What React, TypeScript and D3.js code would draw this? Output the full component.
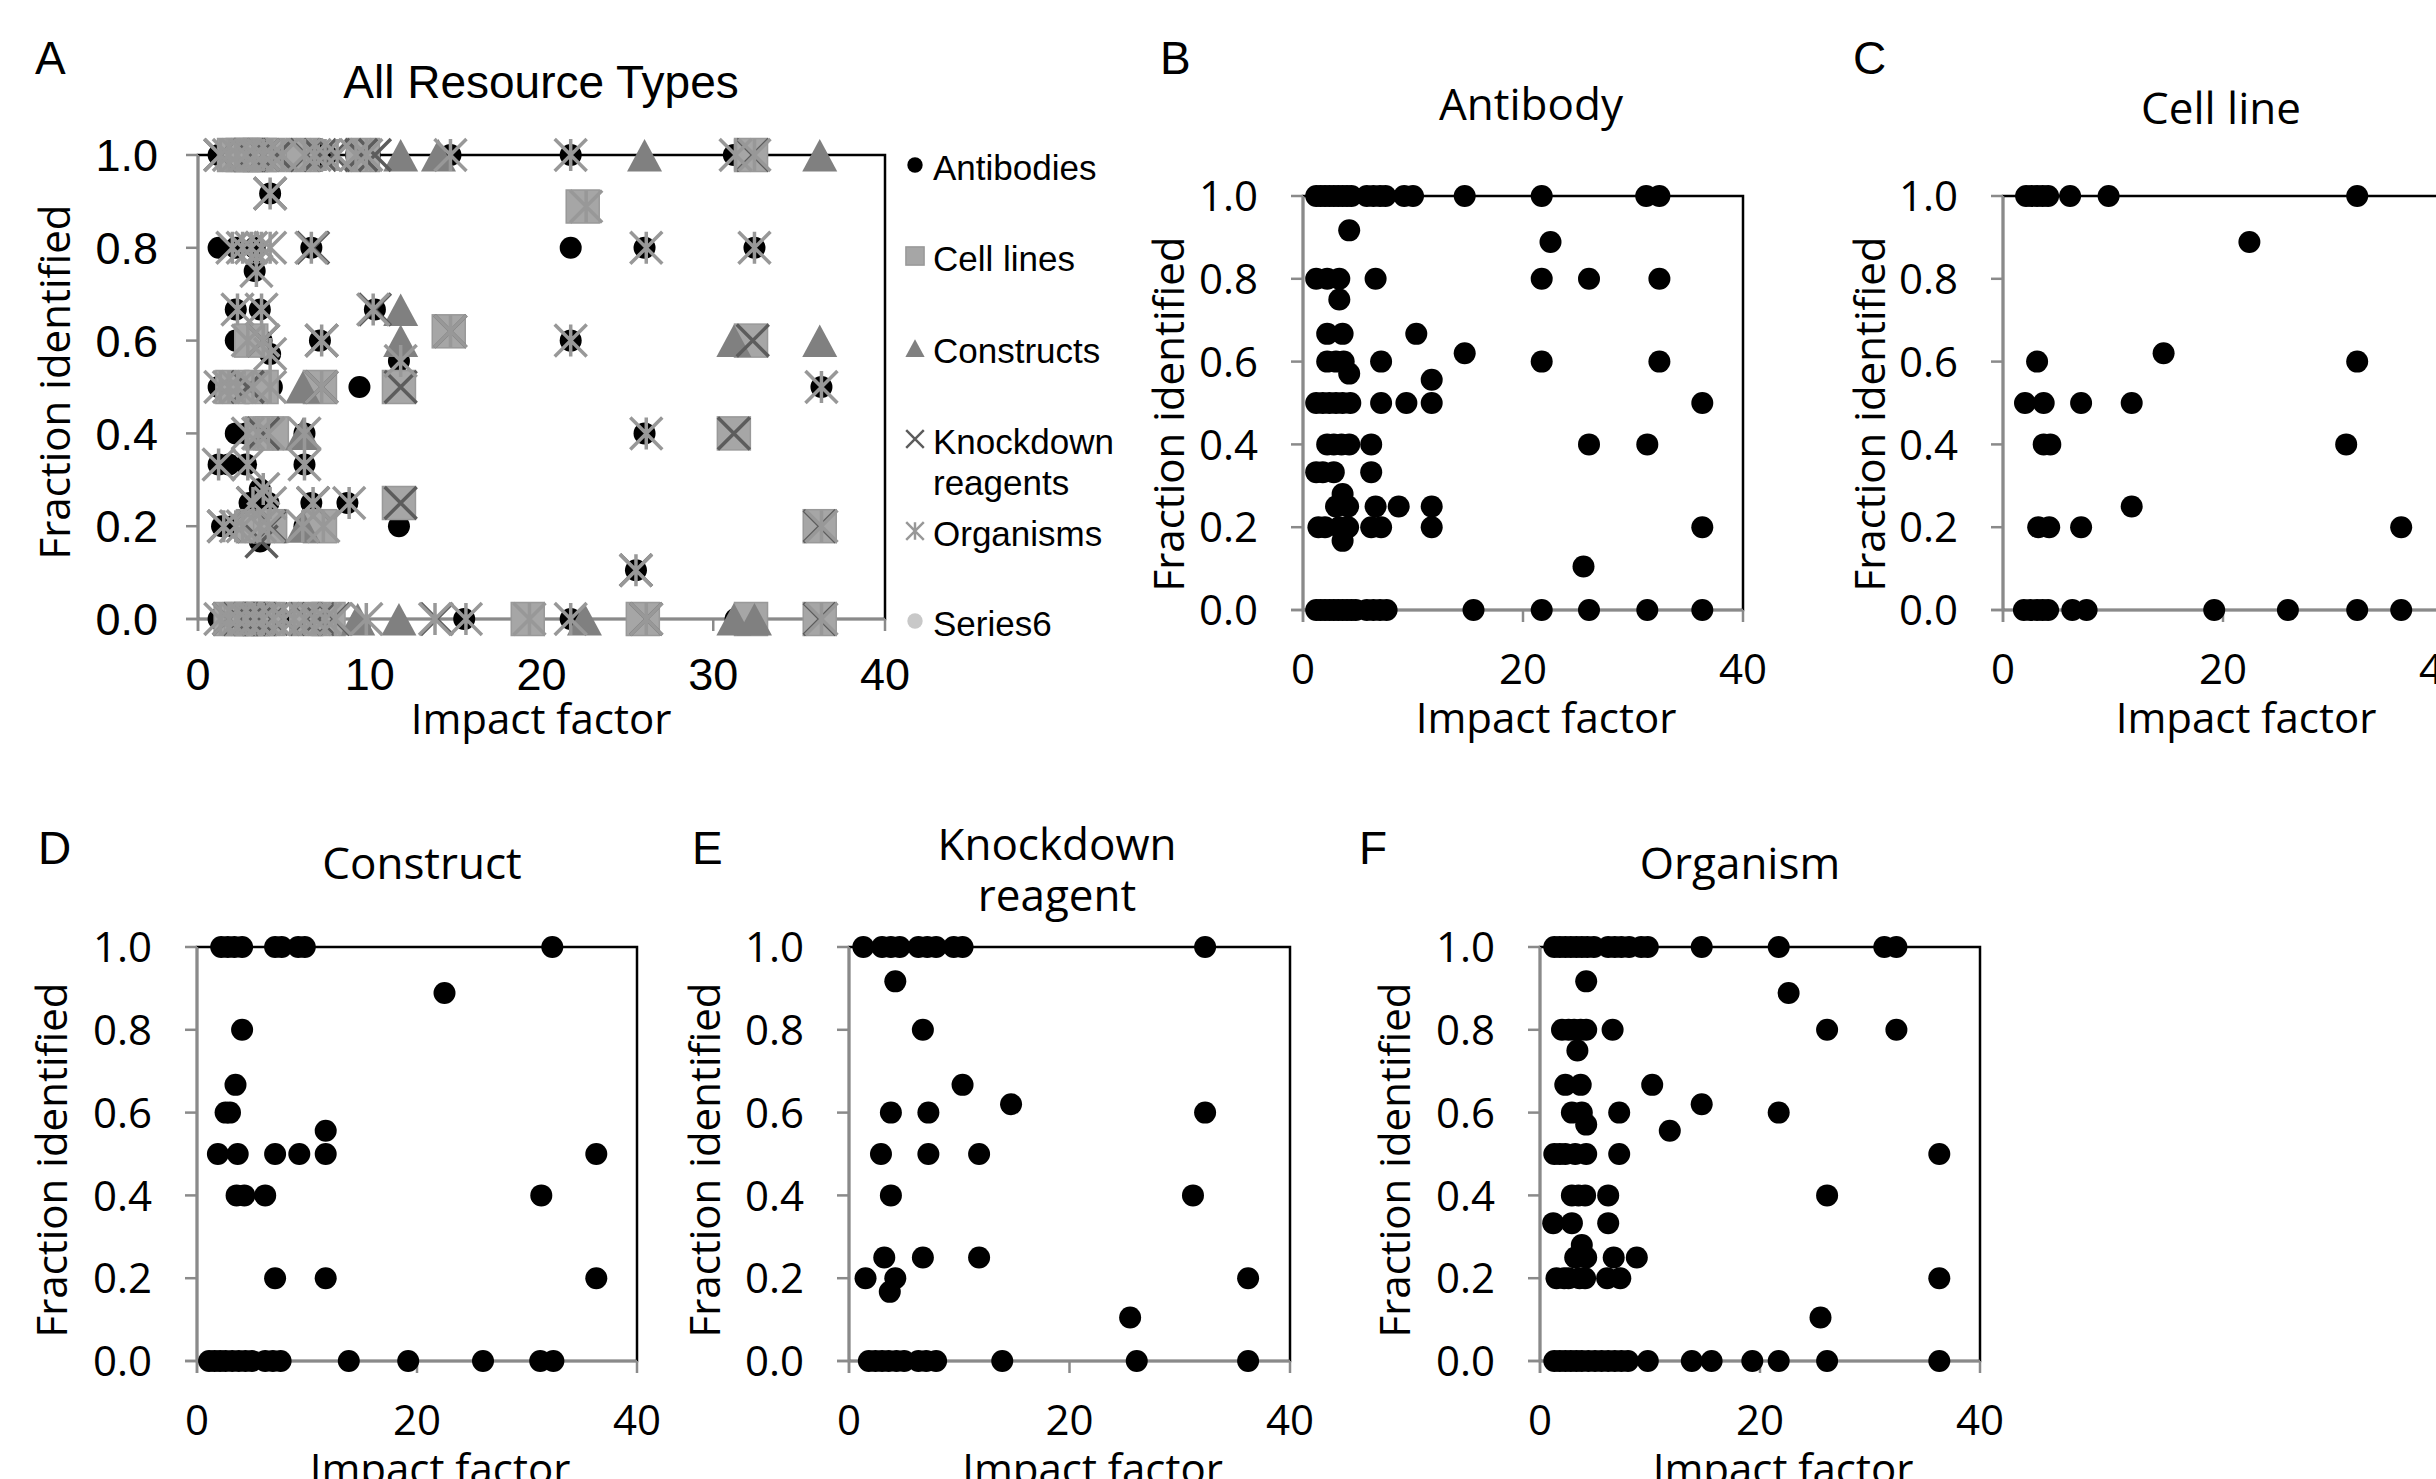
import React from 'react'
import * as d3 from 'd3'

type Row = [number, number[]]

// each row: [fraction identified, impact factors of the papers at that fraction]
const antibodyRows: Row[] = [
  [1.0, [1.2, 1.6, 2.0, 2.4, 2.8, 3.2, 3.6, 4.0, 4.4, 5.8, 6.4, 7.0, 7.5, 9.2, 10.0, 14.7, 21.7, 31.2, 32.4]],
  [0.917, [4.2]],
  [0.889, [22.5]],
  [0.8, [1.2, 2.2, 3.3, 6.6, 21.7, 26.0, 32.4]],
  [0.75, [3.3]],
  [0.667, [2.2, 3.6, 10.3]],
  [0.62, [14.7]],
  [0.6, [2.2, 3.0, 3.7, 7.1, 21.7, 32.4]],
  [0.571, [4.2]],
  [0.556, [11.7]],
  [0.5, [1.2, 1.8, 2.4, 3.0, 3.6, 4.3, 7.1, 9.4, 11.7, 36.3]],
  [0.4, [2.2, 2.8, 3.5, 4.2, 6.2, 26.0, 31.3]],
  [0.333, [1.2, 1.8, 2.8, 6.2]],
  [0.28, [3.6]],
  [0.25, [3.0, 4.1, 6.6, 8.7, 11.7]],
  [0.2, [1.4, 2.0, 3.3, 4.1, 6.2, 7.1, 11.7, 36.3]],
  [0.167, [3.6]],
  [0.105, [25.5]],
  [0.0, [1.2, 1.6, 2.0, 2.4, 2.8, 3.2, 3.6, 4.0, 4.4, 4.8, 5.8, 6.4, 7.0, 7.6, 15.5, 21.7, 26.0, 31.3, 36.3]],
]

const cellLineRows: Row[] = [
  [1.0, [2.1, 2.6, 3.1, 3.6, 4.1, 6.1, 9.6, 32.2]],
  [0.889, [22.4]],
  [0.62, [14.6]],
  [0.6, [3.1, 32.2]],
  [0.5, [2.0, 3.7, 7.1, 11.7]],
  [0.4, [3.7, 4.3, 31.2]],
  [0.25, [11.7]],
  [0.2, [3.2, 4.2, 7.1, 36.2]],
  [0.0, [1.9, 2.5, 3.1, 3.6, 4.1, 6.3, 7.6, 19.2, 25.9, 32.2, 36.2]],
]

const constructRows: Row[] = [
  [1.0, [2.2, 2.8, 3.4, 4.1, 7.1, 7.7, 9.2, 9.8, 32.3]],
  [0.889, [22.5]],
  [0.8, [4.1]],
  [0.667, [3.5]],
  [0.6, [2.6, 3.0]],
  [0.556, [11.7]],
  [0.5, [1.9, 3.7, 7.1, 9.3, 11.7, 36.3]],
  [0.4, [3.6, 4.3, 6.2, 31.3]],
  [0.2, [7.1, 11.7, 36.3]],
  [0.0, [1.1, 1.6, 2.1, 2.6, 3.2, 3.8, 4.4, 5.0, 6.2, 6.9, 7.6, 13.8, 19.2, 26.0, 31.2, 32.4]],
]

const knockdownRows: Row[] = [
  [1.0, [1.3, 3.0, 3.8, 4.6, 6.3, 7.1, 7.9, 9.5, 10.3, 32.3]],
  [0.917, [4.2]],
  [0.8, [6.7]],
  [0.667, [10.3]],
  [0.62, [14.7]],
  [0.6, [3.8, 7.2, 32.3]],
  [0.5, [2.9, 7.2, 11.8]],
  [0.4, [3.8, 31.2]],
  [0.25, [3.2, 6.7, 11.8]],
  [0.2, [1.5, 4.2, 36.2]],
  [0.167, [3.7]],
  [0.105, [25.5]],
  [0.0, [1.8, 2.4, 3.0, 3.6, 4.3, 5.0, 6.3, 7.0, 7.9, 13.9, 26.1, 36.2]],
]

const organismRows: Row[] = [
  [1.0, [1.3, 1.8, 2.3, 2.8, 3.3, 3.8, 4.3, 4.9, 6.2, 6.8, 7.4, 8.1, 9.2, 9.8, 14.7, 21.7, 31.3, 32.4]],
  [0.917, [4.2]],
  [0.889, [22.6]],
  [0.8, [2.0, 2.6, 3.1, 3.7, 4.2, 6.6, 26.1, 32.4]],
  [0.75, [3.4]],
  [0.667, [2.3, 3.7, 10.2]],
  [0.62, [14.7]],
  [0.6, [2.9, 3.8, 7.2, 21.7]],
  [0.571, [4.2]],
  [0.556, [11.8]],
  [0.5, [1.3, 1.8, 2.3, 3.2, 4.2, 7.2, 36.3]],
  [0.4, [2.9, 3.5, 4.1, 6.2, 26.1]],
  [0.333, [1.2, 2.9, 6.2]],
  [0.28, [3.8]],
  [0.25, [3.2, 4.2, 6.7, 8.8]],
  [0.2, [1.5, 2.2, 2.6, 3.6, 4.1, 6.1, 7.3, 36.3]],
  [0.105, [25.5]],
  [0.0, [1.3, 1.8, 2.3, 2.8, 3.3, 3.8, 4.4, 5.0, 5.6, 6.2, 6.8, 7.4, 8.0, 9.8, 13.8, 15.6, 19.3, 21.7, 26.1, 36.3]],
]

// panel A plots its Constructs series from a different column than panel D
const allConstructRows: Row[] = [
  [1.0, [11.8, 14.0, 26.0, 36.2]],
  [0.667, [11.8]],
  [0.6, [11.8, 31.2, 36.2]],
  [0.5, [6.1]],
  [0.4, [6.1]],
  [0.2, [6.1]],
  [0.0, [9.3, 11.7, 22.5, 31.2, 32.4]],
]

const series6Rows: Row[] = [
  [1.0, [4.4, 5.7]],
  [0.0, [5.7]],
]

const yTicks = [0, 0.2, 0.4, 0.6, 0.8, 1.0]
const xTicksA = [0, 10, 20, 30, 40]
const xTicksSmall = [0, 20, 40]
const legendNames = [['Antibodies'], ['Cell lines'], ['Constructs'], ['Knockdown', 'reagents'], ['Organisms'], ['Series6']]

const flat = (rows: Row[]) => rows.flatMap(([y, xs]) => xs.map(x => ({x, y})))

const OPEN = "'Open Sans', sans-serif"
const ARIAL = "'Liberation Sans', Arial, sans-serif"
const GRAY = '#8a8a8a'
const fmt = d3.format('.1f')

function Frame({x, y, xTicks, font, size, yGap, xBase}) {
  const [l, r] = x.range()
  const [b, t] = y.range()
  return (
    <g fontFamily={font} fontSize={size} fill="#000">
      <rect x={l} y={t} width={r - l} height={b - t} fill="none" stroke="#000" strokeWidth={2.5} />
      <line x1={l} x2={l} y1={t} y2={b + 12} stroke={GRAY} strokeWidth={2.5} />
      <line x1={l - 12} x2={r} y1={b} y2={b} stroke={GRAY} strokeWidth={2.5} />
      {yTicks.map(v => (
        <g key={'y' + v}>
          <line x1={l - 12} x2={l} y1={y(v)} y2={y(v)} stroke={GRAY} strokeWidth={2.5} />
          <text x={l - yGap} y={y(v)} dy="0.36em" textAnchor="end">{fmt(v)}</text>
        </g>
      ))}
      {xTicks.map(v => (
        <g key={'x' + v}>
          <line x1={x(v)} x2={x(v)} y1={b} y2={b + 12} stroke={GRAY} strokeWidth={2.5} />
          <text x={x(v)} y={b + xBase} textAnchor="middle">{v}</text>
        </g>
      ))}
    </g>
  )
}

function Marker({kind, cx, cy, s = 1}) {
  const h = 16 * s
  if (kind === 'circle') return <circle cx={cx} cy={cy} r={11 * Math.max(s, 0.7)} fill="#000" />
  if (kind === 'light') return <circle cx={cx} cy={cy} r={11 * Math.max(s, 0.7)} fill="#c8c8c8" />
  if (kind === 'square')
    return <rect x={cx - 16.5 * s} y={cy - 16.5 * s} width={33 * s} height={33 * s} fill="#a6a6a6" stroke="#999" strokeWidth={1.5} />
  if (kind === 'triangle')
    return <path d={`M${cx},${cy - 16 * s}L${cx + 17.5 * s},${cy + 16.5 * s}L${cx - 17.5 * s},${cy + 16.5 * s}Z`} fill="#808080" />
  const cross = `M${cx - h},${cy - h}L${cx + h},${cy + h}M${cx - h},${cy + h}L${cx + h},${cy - h}`
  if (kind === 'x') return <path d={cross} stroke="#5c5c5c" strokeWidth={3.5 * Math.max(s, 0.7)} fill="none" />
  return <path d={`${cross}M${cx},${cy - h}L${cx},${cy + h}`} stroke="#989898" strokeWidth={3.5 * Math.max(s, 0.7)} fill="none" />
}

const aSeries = [
  {kind: 'light', rows: series6Rows},
  {kind: 'circle', rows: antibodyRows},
  {kind: 'square', rows: cellLineRows},
  {kind: 'triangle', rows: allConstructRows},
  {kind: 'x', rows: knockdownRows},
  {kind: 'star', rows: organismRows},
]
const legendKinds = ['circle', 'square', 'triangle', 'x', 'star', 'light']
const legendY = [167, 258, 350, 441, 533, 623]

function PanelA() {
  const x = d3.scaleLinear().domain([0, 40]).range([198, 885])
  const y = d3.scaleLinear().domain([0, 1]).range([619, 155])
  return (
    <g>
      <text x={35} y={74} fontFamily={ARIAL} fontSize={46}>A</text>
      <text x={541} y={98} fontFamily={ARIAL} fontSize={46} textAnchor="middle">All Resource Types</text>
      <Frame x={x} y={y} xTicks={xTicksA} font={ARIAL} size={45} yGap={40} xBase={71} />
      {aSeries.map((sr, i) => (
        <g key={i}>
          {flat(sr.rows).map((d, j) => <Marker key={j} kind={sr.kind} cx={x(d.x)} cy={y(d.y)} />)}
        </g>
      ))}
      <text x={541} y={734} fontFamily={OPEN} fontSize={42} textAnchor="middle">Impact factor</text>
      <text transform={`translate(70,382) rotate(-90)`} fontFamily={OPEN} fontSize={42} textAnchor="middle">Fraction identified</text>
      <g fontFamily={ARIAL} fontSize={35}>
        {legendNames.map((lines, i) => (
          <g key={i}>
            <Marker kind={legendKinds[i]} cx={915} cy={legendY[i] - 2} s={0.55} />
            {lines.map((t, k) => (
              <text key={k} x={933} y={legendY[i] + k * 41} dy="0.36em">{t}</text>
            ))}
          </g>
        ))}
      </g>
    </g>
  )
}

const panels = [
  {id: 'B', title: ['Antibody'], rows: antibodyRows, box: [1303, 1743, 196, 610], tx: 1531, ty: [120], letter: [1160, 74], yt: [1184, 414]},
  {id: 'C', title: ['Cell line'], rows: cellLineRows, box: [2003, 2443, 196, 610], tx: 2221, ty: [124], letter: [1853, 74], yt: [1885, 414]},
  {id: 'D', title: ['Construct'], rows: constructRows, box: [197, 637, 947, 1361], tx: 422, ty: [879], letter: [38, 864], yt: [67, 1160]},
  {id: 'E', title: ['Knockdown', 'reagent'], rows: knockdownRows, box: [849, 1290, 947, 1361], tx: 1057, ty: [860, 911], letter: [692, 864], yt: [720, 1160]},
  {id: 'F', title: ['Organism'], rows: organismRows, box: [1540, 1980, 947, 1361], tx: 1740, ty: [879], letter: [1359, 864], yt: [1410, 1160]},
]

function Panel({p}) {
  const [l, r, t, b] = p.box
  const x = d3.scaleLinear().domain([0, 40]).range([l, r])
  const y = d3.scaleLinear().domain([0, 1]).range([b, t])
  return (
    <g>
      <text x={p.letter[0]} y={p.letter[1]} fontFamily={ARIAL} fontSize={46}>{p.id}</text>
      {p.title.map((s, i) => (
        <text key={i} x={p.tx} y={p.ty[i]} fontFamily={OPEN} fontSize={44} textAnchor="middle">{s}</text>
      ))}
      <Frame x={x} y={y} xTicks={xTicksSmall} font={OPEN} size={42} yGap={45} xBase={74} />
      {flat(p.rows).map((d, j) => <circle key={j} cx={x(d.x)} cy={y(d.y)} r={11} fill="#000" />)}
      <text x={(l + r) / 2 + 23} y={b + 123} fontFamily={OPEN} fontSize={42} textAnchor="middle">Impact factor</text>
      <text transform={`translate(${p.yt[0]},${p.yt[1]}) rotate(-90)`} fontFamily={OPEN} fontSize={42} textAnchor="middle">Fraction identified</text>
    </g>
  )
}

export default function App() {
  return (
    <svg width={2436} height={1479} style={{position: 'absolute', left: 0, top: 0, background: '#fff', overflow: 'hidden'}}>
      <rect width={2436} height={1479} fill="#fff" />
      <PanelA />
      {panels.map(p => <Panel key={p.id} p={p} />)}
    </svg>
  )
}
